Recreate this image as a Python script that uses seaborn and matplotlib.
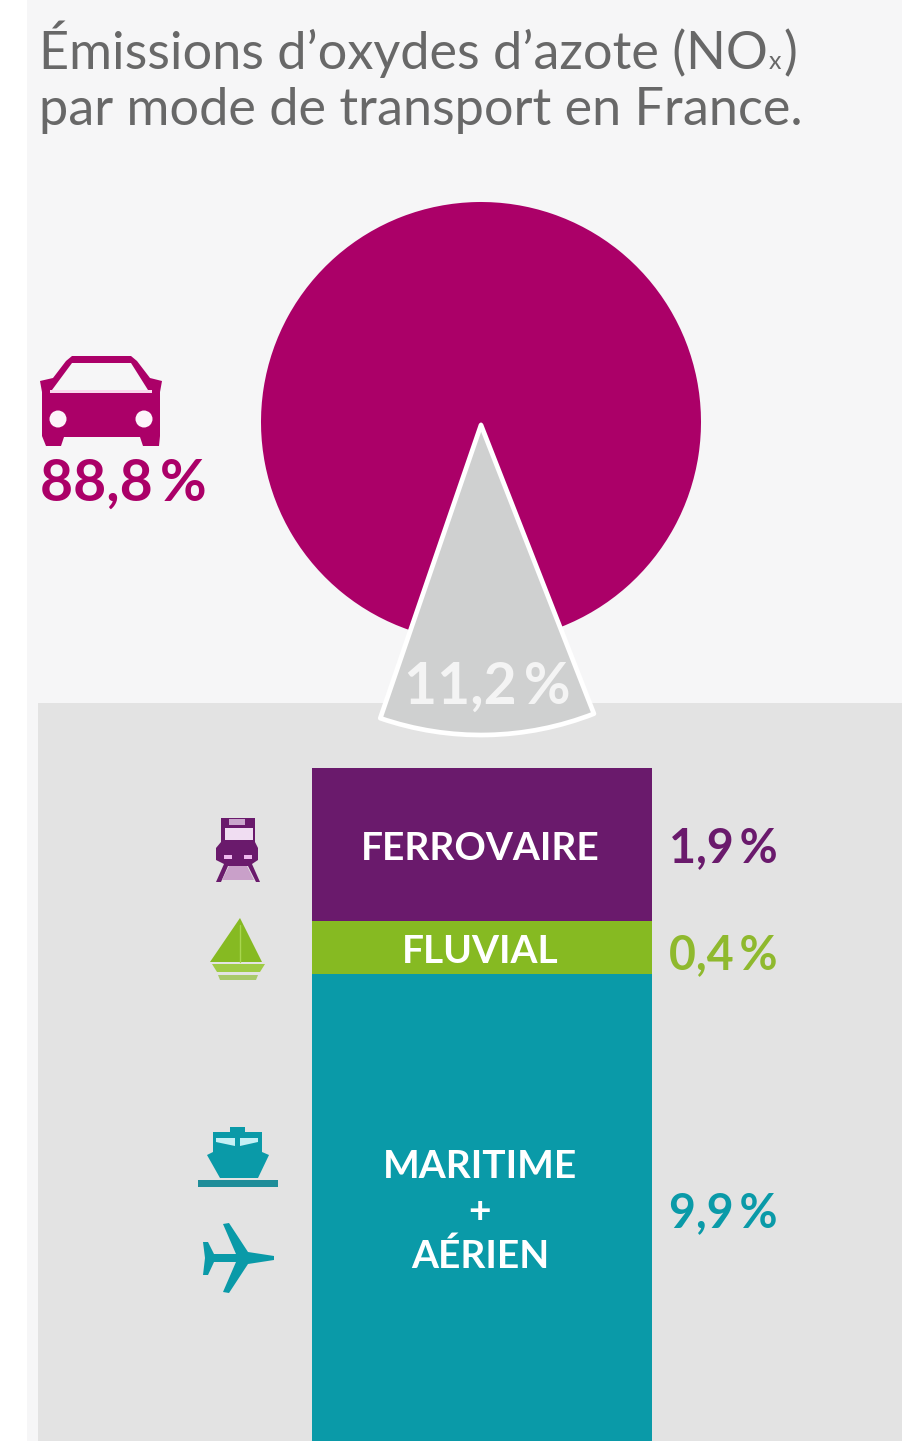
import numpy as np
import pandas as pd
import matplotlib
matplotlib.use("Agg")
import matplotlib.pyplot as plt
from matplotlib.patches import Rectangle, Polygon, Circle
import seaborn as sns

# ---- data ----
pie_labels = ["Routier", "Autres modes"]
pie_values = [88.8, 11.2]
pie_texts = ["88,8\u2009%", "11,2\u2009%"]
band_labels = ["FERROVAIRE", "FLUVIAL", "MARITIME\n+\nAÉRIEN"]
band_heights = [153, 53, 467]          # bands as drawn (not proportional in the original)
band_values = ["1,9\u2009%", "0,4\u2009%", "9,9\u2009%"]
title_parts = ["Émissions d’oxydes d’azote (NO", "x", ")"]
title_line2 = "par mode de transport en France."

# ---- style ----
MAGENTA = "#ab0068"
GREY = "#cfd0d0"
PURPLE = "#6a1a6c"
GREEN = "#86ba22"
TEAL = "#0a9aa8"
BG_TOP = "#f6f6f7"
BG_LOW = "#e3e3e3"
TITLE = "#686868"
band_colors = [PURPLE, GREEN, TEAL]
value_colors = [PURPLE, "#8fb92e", TEAL]

sns.set_theme(style="white")
plt.rcParams["font.family"] = ["Lato", "DejaVu Sans"]

W, H = 903, 1441
fig = plt.figure(figsize=(W / 100, H / 100), dpi=100, facecolor="white")
ax = fig.add_axes([0, 0, 1, 1])
ax.set_xlim(0, W)
ax.set_ylim(H, 0)
ax.axis("off")

# panels
ax.add_patch(Rectangle((27, 0), W - 27, H, fc=BG_TOP, ec="none", zorder=0))
ax.add_patch(Rectangle((38, 703), W - 38, H - 703, fc=BG_LOW, ec="none", zorder=0))

# title, with the small x set piece by piece
TITLE_SIZE = 37.6
renderer = fig.canvas.get_renderer()
t1 = ax.text(39, 69, title_parts[0], fontsize=TITLE_SIZE, color=TITLE, va="baseline", zorder=5)
x_end = t1.get_window_extent(renderer).x1
t2 = ax.text(x_end + 1, 69, title_parts[1], fontsize=18, color=TITLE, va="baseline", zorder=5)
x_end = t2.get_window_extent(renderer).x1
ax.text(x_end + 2, 69, title_parts[2], fontsize=TITLE_SIZE, color=TITLE, va="baseline", zorder=5)
ax.text(39, 125, title_line2, fontsize=TITLE_SIZE, color=TITLE, va="baseline", zorder=5)

# pie: y axis is inverted, so angle 90 points downwards on screen
start = 90 - 1.2 - 360 * (pie_values[0] + pie_values[1] / 2) / sum(pie_values)
ax.pie(pie_values, colors=[MAGENTA, "none"], center=(481, 422), radius=220,
       startangle=start, frame=True, wedgeprops=dict(linewidth=0))
ax.pie(pie_values, colors=["none", GREY], center=(481, 425), radius=310,
       startangle=start, frame=True,
       wedgeprops=dict(linewidth=3.4, edgecolor="white", joinstyle="round"))
ax.patches[-2].set_edgecolor("none")
ax.set_xlim(0, W)
ax.set_ylim(H, 0)
ax.axis("off")

ax.text(40, 501, pie_texts[0], fontsize=41, fontweight="bold", color=MAGENTA,
        ha="left", va="baseline", zorder=5)
ax.text(487, 704, pie_texts[1], fontsize=41, fontweight="bold", color="#f4f4f4",
        ha="center", va="baseline", zorder=5)


def poly(pts, color, z=4):
    ax.add_patch(Polygon(pts, closed=True, fc=color, ec="none", zorder=z))


# car icon
poly([(72, 356), (131, 356), (137, 361), (150, 378), (162, 381), (160, 392), (160, 436),
      (159, 446), (143, 446), (140, 437), (64, 437), (61, 446), (46, 446), (42, 436),
      (42, 392), (40, 381), (53, 378), (66, 361)], MAGENTA)
poly([(72, 363), (131, 363), (148, 390), (52, 390)], BG_TOP, 5)
ax.add_patch(Rectangle((50, 390), 102, 3, fc="#f8d8ec", ec="none", zorder=5))
for cx in (58, 144):
    ax.add_patch(Circle((cx, 419), 8.5, fc="#fdf4fa", ec="none", zorder=5))

# train icon
poly([(221, 818), (255, 818), (255, 842), (258, 848), (258, 860), (252, 864), (260, 882),
      (256, 882), (248, 866), (228, 866), (221, 882), (216, 882), (224, 864), (216, 860),
      (216, 848), (221, 842)], PURPLE)
poly([(225, 828), (253, 828), (253, 840), (225, 840)], "#f0ddf2", 5)
poly([(229, 819), (245, 819), (245, 825), (229, 825)], "#c9a6cc", 5)
poly([(229, 866), (247, 866), (254, 880), (222, 880)], "#c9a0c9", 5)
for cx in (228, 248):
    ax.add_patch(Rectangle((cx - 4, 855), 8, 4, fc="#eeb8ee", ec="none", zorder=5))

# sailboat icon
poly([(240, 918), (262, 962), (210, 962)], GREEN)
poly([(212, 964), (265, 964), (260, 972), (217, 972)], "#9fcb45")
poly([(218, 975), (258, 975), (256, 980), (220, 980)], "#a9c96a")
ax.plot([240, 240], [925, 962], color="#a9d650", lw=1, zorder=5)

# ship icon
poly([(230, 1127), (245, 1127), (245, 1132), (262, 1132), (262, 1152), (269, 1155), (258, 1178),
      (220, 1178), (207, 1155), (213, 1152), (213, 1132), (230, 1132)], TEAL)
poly([(216, 1138), (235, 1138), (235, 1146), (216, 1142)], "#c4f0f5", 5)
poly([(240, 1138), (258, 1138), (258, 1142), (240, 1146)], "#c4f0f5", 5)
ax.add_patch(Rectangle((198, 1180), 80, 7, fc="#1f8d99", ec="none", zorder=4))

# plane icon
plane = [(203, 1242), (208, 1242), (214, 1254), (236, 1254), (223, 1224), (229, 1223), (248, 1252),
         (274, 1256), (274, 1260), (248, 1264), (229, 1293), (223, 1292), (236, 1262),
         (214, 1262), (208, 1275), (203, 1275), (205, 1258)]
poly(plane, TEAL)

# stacked column, in its own axes
ax_bar = fig.add_axes([312 / W, 0, 340 / W, (H - 768) / H], zorder=3)
ax_bar.patch.set_alpha(0)
bottom = 0
for label, h, c in zip(band_labels, band_heights, band_colors):
    sns.barplot(x=["bande"], y=[h], bottom=bottom, color=c, saturation=1, width=1,
                linewidth=0, ax=ax_bar)
    bottom += h
ax_bar.set_xlim(-0.5, 0.5)
ax_bar.set_ylim(sum(band_heights), 0)
ax_bar.axis("off")

bottom = 0
value_nudges = [4, 8, 6]
for i, (label, h, value) in enumerate(zip(band_labels, band_heights, band_values)):
    mid = bottom + h / 2
    ax_bar.text(-2 / 340, mid + 4, label, color="white", fontweight="bold", fontsize=28,
                ha="center", va="center", linespacing=1.35, multialignment="center")
    ax_bar.text(0.5 + 17 / 340, mid + value_nudges[i], value, color=value_colors[i],
                fontweight="bold", fontsize=33.5, ha="left", va="center", clip_on=False)
    bottom += h

fig.savefig("out.png", dpi=100, facecolor="white")
